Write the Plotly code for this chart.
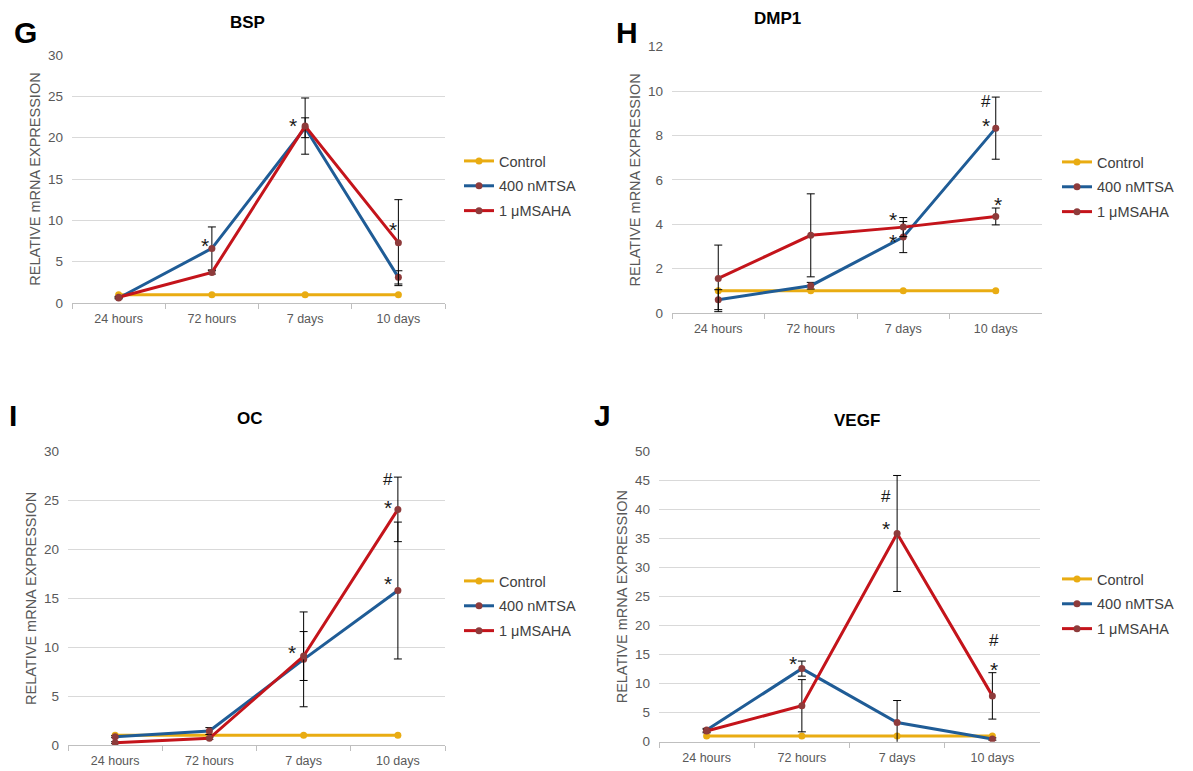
import plotly.graph_objects as go

categories = ["24 hours", "72 hours", "7 days", "10 days"]
series_names = ["Control", "400 nMTSA", "1 μMSAHA"]

# BSP
bsp_control = [1, 1, 1, 1]
bsp_tsa = [0.6, 6.6, 21.2, 3.1]
bsp_tsa_err = [0.1, 2.6, 1.2, 0.8]
bsp_saha = [0.7, 3.7, 21.4, 7.3]
bsp_saha_err = [0.1, 0.2, 3.4, 5.2]

# DMP1
dmp1_control = [1, 1, 1, 1]
dmp1_tsa = [0.6, 1.23, 3.42, 8.33]
dmp1_tsa_err = [0.45, 0.15, 0.7, 1.4]
dmp1_saha = [1.56, 3.5, 3.87, 4.35]
dmp1_saha_err = [1.5, 1.87, 0.43, 0.38]

# OC
oc_control = [1, 1, 1, 1]
oc_tsa = [0.85, 1.43, 8.76, 15.8]
oc_tsa_err = [0.1, 0.35, 4.85, 7.0]
oc_saha = [0.24, 0.68, 9.1, 24.1]
oc_saha_err = [0.1, 0.1, 2.5, 3.3]

# VEGF
vegf_control = [1, 1, 1, 1]
vegf_tsa = [2.0, 12.6, 3.3, 0.46]
vegf_tsa_err = [0.3, 1.3, 3.8, 0.2]
vegf_saha = [1.84, 6.2, 35.9, 7.9]
vegf_saha_err = [0.3, 4.5, 10.0, 4.0]

# significance marks: (category index, y value, text, x shift px)
bsp_marks = [(1, 7.4, "*", -7), (2, 21.9, "*", -12), (3, 9.4, "*", -5)]
dmp1_marks = [(3, 9.55, "#", -10), (3, 8.65, "*", -10), (3, 5.05, "*", 2),
              (2, 4.41, "*", -10), (2, 3.42, "*", -10)]
oc_marks = [(3, 27.2, "#", -10), (3, 24.75, "*", -10), (3, 16.9, "*", -10),
            (2, 9.9, "*", -12)]
vegf_marks = [(1, 14.1, "*", -9), (2, 42.2, "#", -11), (2, 37.4, "*", -11),
              (3, 17.5, "#", 2), (3, 13.2, "*", 2)]

panels = [
    dict(title="BSP", letter="G", ctrl=bsp_control, tsa=bsp_tsa, tsa_err=bsp_tsa_err,
         saha=bsp_saha, saha_err=bsp_saha_err, marks=bsp_marks, ymax=30, dtick=5,
         xdom=[72, 445], ypx=[303, 55], title_xy=(247, 22), letter_xy=(25, 32),
         legend_xy=(459, 145)),
    dict(title="DMP1", letter="H", ctrl=dmp1_control, tsa=dmp1_tsa, tsa_err=dmp1_tsa_err,
         saha=dmp1_saha, saha_err=dmp1_saha_err, marks=dmp1_marks, ymax=12, dtick=2,
         xdom=[672, 1042], ypx=[313, 46.7], title_xy=(777, 19), letter_xy=(627, 33),
         legend_xy=(1057, 146)),
    dict(title="OC", letter="I", ctrl=oc_control, tsa=oc_tsa, tsa_err=oc_tsa_err,
         saha=oc_saha, saha_err=oc_saha_err, marks=oc_marks, ymax=30, dtick=5,
         xdom=[68, 445], ypx=[745, 451.7], title_xy=(250, 418), letter_xy=(13, 415),
         legend_xy=(459, 565)),
    dict(title="VEGF", letter="J", ctrl=vegf_control, tsa=vegf_tsa, tsa_err=vegf_tsa_err,
         saha=vegf_saha, saha_err=vegf_saha_err, marks=vegf_marks, ymax=50, dtick=5,
         xdom=[659, 1040], ypx=[741.7, 451.7], title_xy=(857, 420), letter_xy=(602, 415),
         legend_xy=(1057, 563)),
]

W, H = 1193, 771
OFF = 8  # page body margin in the browser
GOLD = "#E9AC12"
BLUE = "#1F5C96"
RED = "#C4141B"
MARK = "#8E3B3B"
TICK = "#595959"
FONT = "Liberation Sans"


def fx(px):
    return (px - OFF) / W


def fy(py):
    return 1 - (py - OFF) / H


fig = go.Figure()
annotations = []
layout = dict(
    width=W, height=H, margin=dict(l=0, r=0, t=0, b=0, autoexpand=False),
    paper_bgcolor="white", plot_bgcolor="white",
    font=dict(family=FONT, color=TICK),
)

for i, p in enumerate(panels):
    n = "" if i == 0 else str(i + 1)
    xa, ya = "x" + n, "y" + n
    leg = "legend" + n
    specs = [
        (series_names[0], p["ctrl"], None, GOLD, GOLD),
        (series_names[1], p["tsa"], p["tsa_err"], BLUE, MARK),
        (series_names[2], p["saha"], p["saha_err"], RED, MARK),
    ]
    for k, (name, vals, err, lc, mc) in enumerate(specs):
        tr = go.Scatter(
            x=categories, y=vals, name=name, mode="lines+markers",
            line=dict(color=lc, width=3),
            marker=dict(color=mc, size=7, line=dict(width=0)),
            xaxis=xa, yaxis=ya, legend=leg, legendgroup=f"{i}-{k}",
        )
        if err is not None:
            tr.error_y = dict(type="data", array=err, visible=True, color="black",
                              thickness=1, width=4)
        fig.add_trace(tr)

    x0, x1 = p["xdom"]
    yb, yt = p["ypx"]
    layout["xaxis" + n] = dict(
        domain=[fx(x0), fx(x1)], anchor=ya, type="category",
        categoryorder="array", categoryarray=categories, range=[-0.5, 3.5],
        showline=True, linecolor="#BFBFBF", linewidth=1, ticks="outside",
        tickson="boundaries", ticklen=5, tickcolor="#BFBFBF", showgrid=False,
        ticklabelstandoff=4, automargin=False,
        tickfont=dict(size=12.5, color=TICK, family=FONT), fixedrange=True,
    )
    layout["yaxis" + n] = dict(
        domain=[fy(yb), fy(yt)], anchor=xa, range=[0, p["ymax"]],
        dtick=p["dtick"], showgrid=True, gridcolor="#D9D9D9", gridwidth=1,
        zeroline=False, showline=False, ticks="", ticklabelstandoff=8,
        automargin=False,
        tickfont=dict(size=13.5, color=TICK, family=FONT),
        title=dict(text="RELATIVE mRNA EXPRESSION", standoff=3,
                   font=dict(size=14.5, color=TICK, family=FONT)),
        fixedrange=True,
    )
    lx, ly = p["legend_xy"]
    layout[leg] = dict(
        x=fx(lx), y=fy(ly), xanchor="left", yanchor="top",
        bgcolor="rgba(0,0,0,0)", borderwidth=0, tracegroupgap=3,
        font=dict(size=14.5, color="#404040", family=FONT), itemwidth=30,
    )
    tx, ty = p["title_xy"]
    annotations.append(dict(
        text=f"<b>{p['title']}</b>", x=fx(tx), y=fy(ty), xref="paper", yref="paper",
        showarrow=False, xanchor="center", yanchor="middle",
        font=dict(size=17, color="black", family=FONT)))
    lx2, ly2 = p["letter_xy"]
    annotations.append(dict(
        text=f"<b>{p['letter']}</b>", x=fx(lx2), y=fy(ly2), xref="paper", yref="paper",
        showarrow=False, xanchor="center", yanchor="middle",
        font=dict(size=30, color="black", family=FONT)))
    for (ci, yv, txt, xs) in p["marks"]:
        annotations.append(dict(
            text=txt, x=categories[ci], y=yv, xref=xa, yref=ya, showarrow=False,
            xanchor="center", yanchor="middle", xshift=xs,
            yshift=-4 if txt == "*" else 0,
            font=dict(size=21 if txt == "*" else 17, color="#1a1a1a", family=FONT)))

layout["annotations"] = annotations
layout["showlegend"] = True
fig.update_layout(**layout)
fig.write_html("out.html")
